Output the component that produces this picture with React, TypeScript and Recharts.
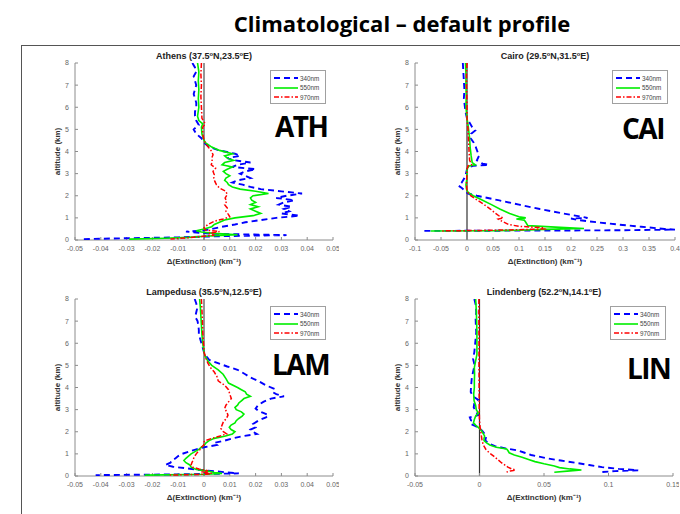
import React from 'react';
import { ScatterChart, Scatter, XAxis, YAxis, ReferenceLine } from 'recharts';

// each point: [altitude (km), delta extinction (km^-1)]
type Pt = [number, number];

const altTicks = [0, 1, 2, 3, 4, 5, 6, 7, 8];
const smallTicks = [-0.05, -0.04, -0.03, -0.02, -0.01, 0, 0.01, 0.02, 0.03, 0.04, 0.05];
const caiTicks = [-0.1, -0.05, 0, 0.05, 0.1, 0.15, 0.2, 0.25, 0.3, 0.35, 0.4];
const linTicks = [-0.05, 0, 0.05, 0.1, 0.15];
const wavelengths = ['340nm', '550nm', '970nm'];

const ath340: Pt[] = [[8.0,-0.0045],[7.8,-0.0035],[7.6,-0.003],[7.4,-0.004],[7.2,-0.0035],[7.0,-0.003],[6.8,-0.0035],[6.6,-0.004],[6.4,-0.0035],[6.2,-0.003],[6.0,-0.003],[5.8,-0.0035],[5.6,-0.0035],[5.4,-0.003],[5.2,-0.002],[5.0,-0.004],[4.8,-0.003],[4.6,-0.001],[4.4,0.0],[4.2,0.002],[4.05,0.006],[3.9,0.012],[3.8,0.014],[3.7,0.009],[3.6,0.012],[3.5,0.018],[3.4,0.013],[3.3,0.011],[3.2,0.02],[3.1,0.016],[3.0,0.014],[2.9,0.016],[2.8,0.018],[2.7,0.013],[2.6,0.011],[2.5,0.015],[2.4,0.018],[2.3,0.022],[2.2,0.03],[2.1,0.038],[2.0,0.032],[1.9,0.028],[1.8,0.035],[1.7,0.031],[1.6,0.029],[1.5,0.034],[1.4,0.031],[1.3,0.033],[1.2,0.03],[1.1,0.037],[1.0,0.028],[0.9,0.022],[0.8,0.016],[0.7,0.012],[0.6,0.007],[0.5,0.003],[0.42,-0.001],[0.38,-0.007],[0.33,-0.002],[0.28,0.004],[0.22,0.032],[0.17,0.005],[0.12,-0.01],[0.08,-0.03],[0.04,-0.047]];
const ath550: Pt[] = [[8.0,-0.0025],[7.6,-0.002],[7.2,-0.0022],[6.8,-0.002],[6.4,-0.0022],[6.0,-0.002],[5.6,-0.0025],[5.4,-0.002],[5.25,-0.0005],[5.1,-0.001],[4.8,-0.0008],[4.6,-0.0003],[4.4,0.0005],[4.2,0.003],[4.05,0.006],[3.9,0.011],[3.8,0.008],[3.7,0.009],[3.6,0.0115],[3.5,0.008],[3.4,0.007],[3.3,0.011],[3.2,0.009],[3.1,0.0075],[3.0,0.0085],[2.9,0.01],[2.8,0.0085],[2.7,0.008],[2.6,0.009],[2.5,0.0095],[2.4,0.011],[2.3,0.014],[2.2,0.02],[2.1,0.025],[2.0,0.019],[1.9,0.018],[1.8,0.0185],[1.7,0.02],[1.6,0.018],[1.5,0.021],[1.4,0.018],[1.3,0.02],[1.2,0.022],[1.1,0.019],[1.0,0.012],[0.9,0.008],[0.8,0.006],[0.7,0.004],[0.6,0.003],[0.5,0.0],[0.42,-0.003],[0.36,-0.001],[0.3,0.004],[0.24,0.013],[0.18,0.002],[0.12,-0.006],[0.08,-0.015],[0.04,-0.029]];
const ath970: Pt[] = [[8.0,-0.001],[7.5,-0.0012],[7.0,-0.001],[6.5,-0.0012],[6.0,-0.001],[5.5,-0.0008],[5.25,0.0005],[5.1,-0.0005],[4.8,-0.0005],[4.5,0.0],[4.3,0.001],[4.15,0.002],[4.0,0.003],[3.85,0.0035],[3.7,0.003],[3.55,0.0032],[3.4,0.0028],[3.25,0.0045],[3.1,0.0035],[2.95,0.004],[2.8,0.0038],[2.65,0.0042],[2.5,0.0048],[2.35,0.006],[2.2,0.0085],[2.05,0.009],[1.9,0.0082],[1.75,0.0088],[1.6,0.008],[1.45,0.009],[1.3,0.0085],[1.15,0.0095],[1.05,0.01],[0.95,0.0075],[0.85,0.004],[0.7,0.0015],[0.55,0.0],[0.45,0.0005],[0.38,0.006],[0.3,0.002],[0.22,0.004],[0.15,-0.002],[0.1,-0.006],[0.05,-0.013]];

const cai340: Pt[] = [[8.0,-0.008],[7.6,-0.007],[7.2,-0.006],[6.8,-0.005],[6.4,-0.006],[6.0,-0.004],[5.8,-0.003],[5.5,0.0],[5.3,0.005],[5.1,0.01],[4.95,0.016],[4.8,0.008],[4.6,0.007],[4.4,0.013],[4.2,0.017],[4.0,0.02],[3.8,0.023],[3.6,0.019],[3.45,0.03],[3.4,0.042],[3.35,0.012],[3.3,0.003],[3.2,0.0],[3.0,-0.002],[2.8,-0.005],[2.6,-0.01],[2.45,-0.016],[2.35,-0.01],[2.2,-0.003],[2.1,0.002],[2.0,0.019],[1.8,0.06],[1.6,0.1],[1.4,0.14],[1.2,0.185],[1.0,0.232],[0.97,0.2],[0.9,0.215],[0.8,0.25],[0.7,0.29],[0.6,0.335],[0.5,0.38],[0.47,0.4],[0.44,0.3],[0.42,0.05],[0.41,-0.085]];
const cai550: Pt[] = [[8.0,-0.003],[7.5,-0.002],[7.0,-0.002],[6.5,-0.0015],[6.0,-0.002],[5.5,0.0],[5.2,0.002],[5.0,0.003],[4.6,0.005],[4.2,0.006],[3.8,0.008],[3.5,0.01],[3.4,0.016],[3.35,0.004],[3.2,0.0],[2.8,0.0],[2.5,-0.002],[2.3,-0.001],[2.15,0.002],[2.0,0.012],[1.8,0.03],[1.6,0.047],[1.4,0.063],[1.2,0.082],[1.05,0.1],[1.0,0.113],[0.95,0.095],[0.9,0.11],[0.8,0.113],[0.65,0.117],[0.58,0.17],[0.52,0.225],[0.48,0.15],[0.44,0.1],[0.42,0.05],[0.41,-0.07]];
const cai970: Pt[] = [[8.0,0.0],[7.5,-0.001],[7.0,-0.001],[6.5,-0.0005],[6.0,0.0],[5.5,0.0],[5.0,0.002],[4.5,0.003],[4.0,0.004],[3.6,0.005],[3.4,0.009],[3.35,0.002],[3.2,0.0],[2.8,-0.0005],[2.5,-0.001],[2.2,0.0],[2.0,0.007],[1.8,0.02],[1.6,0.033],[1.4,0.045],[1.2,0.055],[1.05,0.064],[1.0,0.07],[0.95,0.06],[0.85,0.067],[0.7,0.08],[0.62,0.1],[0.55,0.147],[0.5,0.15],[0.46,0.09],[0.43,0.02],[0.41,-0.05]];

const lam340: Pt[] = [[8.0,-0.0036],[7.8,-0.003],[7.6,-0.0026],[7.4,-0.003],[7.2,-0.0034],[7.0,-0.0025],[6.8,-0.0022],[6.6,-0.002],[6.4,-0.002],[6.2,-0.0015],[6.0,-0.001],[5.8,-0.0005],[5.6,0.0],[5.4,0.001],[5.25,0.002],[5.1,0.0054],[4.95,0.009],[4.8,0.013],[4.6,0.016],[4.45,0.018],[4.3,0.021],[4.1,0.024],[3.95,0.027],[3.8,0.0265],[3.7,0.028],[3.6,0.031],[3.5,0.026],[3.35,0.023],[3.2,0.021],[3.05,0.02],[2.95,0.021],[2.85,0.023],[2.75,0.025],[2.65,0.024],[2.5,0.021],[2.35,0.019],[2.2,0.02],[2.1,0.018],[2.0,0.019],[1.9,0.0205],[1.8,0.015],[1.7,0.011],[1.6,0.008],[1.5,0.004],[1.4,0.005],[1.3,0.0],[1.2,-0.003],[1.1,-0.006],[1.0,-0.0085],[0.9,-0.01],[0.8,-0.011],[0.7,-0.0125],[0.6,-0.013],[0.5,-0.015],[0.42,-0.012],[0.35,-0.007],[0.28,-0.002],[0.22,0.004],[0.17,0.008],[0.12,0.0135],[0.08,-0.005],[0.04,-0.042]];
const lam550: Pt[] = [[8.0,-0.0017],[7.6,-0.0014],[7.2,-0.0012],[6.8,-0.001],[6.4,-0.0008],[6.0,-0.0005],[5.6,0.0],[5.4,0.0005],[5.2,0.0015],[5.0,0.003],[4.8,0.0055],[4.6,0.0074],[4.4,0.0085],[4.2,0.0095],[4.0,0.013],[3.9,0.0145],[3.8,0.016],[3.7,0.0165],[3.6,0.018],[3.5,0.0155],[3.4,0.0145],[3.3,0.0135],[3.2,0.013],[3.1,0.012],[3.0,0.0125],[2.9,0.0145],[2.8,0.0155],[2.7,0.0148],[2.6,0.0135],[2.5,0.0125],[2.4,0.012],[2.3,0.0105],[2.2,0.0098],[2.1,0.0105],[2.0,0.012],[1.9,0.011],[1.8,0.008],[1.7,0.004],[1.6,0.002],[1.5,0.0008],[1.4,0.0002],[1.3,-0.001],[1.2,-0.002],[1.1,-0.0035],[1.0,-0.005],[0.9,-0.006],[0.8,-0.007],[0.7,-0.0078],[0.6,-0.007],[0.5,-0.0055],[0.4,-0.005],[0.3,-0.003],[0.22,0.0015],[0.16,0.004],[0.12,0.007],[0.08,0.001],[0.04,-0.023]];
const lam970: Pt[] = [[8.0,-0.001],[7.5,-0.0008],[7.0,-0.0006],[6.5,-0.0005],[6.0,-0.0002],[5.6,0.0],[5.3,0.0008],[5.1,0.0015],[4.9,0.0025],[4.7,0.004],[4.5,0.005],[4.3,0.0055],[4.1,0.008],[3.9,0.0095],[3.7,0.01],[3.5,0.0106],[3.35,0.0095],[3.2,0.0085],[3.05,0.008],[2.9,0.0088],[2.75,0.0093],[2.6,0.0087],[2.45,0.0075],[2.3,0.007],[2.15,0.0065],[2.0,0.0075],[1.9,0.0088],[1.8,0.006],[1.7,0.003],[1.6,0.0005],[1.5,-0.0004],[1.4,0.0],[1.3,-0.001],[1.2,-0.0015],[1.1,-0.0023],[1.0,-0.003],[0.9,-0.0036],[0.8,-0.004],[0.7,-0.0043],[0.6,-0.0047],[0.5,-0.005],[0.4,-0.0045],[0.32,-0.002],[0.24,0.0015],[0.18,-0.001],[0.12,0.003],[0.08,0.001],[0.04,-0.014]];

const lin340: Pt[] = [[8.0,-0.004],[7.7,-0.0028],[7.4,-0.0025],[7.1,-0.003],[6.8,-0.0028],[6.5,-0.0025],[6.2,-0.003],[5.9,-0.0035],[5.6,-0.004],[5.3,-0.005],[5.0,-0.0038],[4.7,-0.005],[4.4,-0.006],[4.1,-0.0065],[3.8,-0.0068],[3.6,-0.005],[3.45,-0.0012],[3.3,-0.004],[3.1,-0.0045],[2.9,-0.0025],[2.75,-0.001],[2.65,-0.0075],[2.5,-0.0065],[2.35,-0.007],[2.25,-0.003],[2.15,0.0],[2.05,0.002],[1.9,0.004],[1.75,0.005],[1.6,0.0045],[1.45,0.008],[1.35,0.012],[1.25,0.02],[1.15,0.03],[1.05,0.035],[0.95,0.04],[0.8,0.052],[0.7,0.063],[0.6,0.074],[0.5,0.085],[0.4,0.095],[0.32,0.108],[0.26,0.123],[0.22,0.105],[0.18,0.095]];
const lin550: Pt[] = [[8.0,-0.003],[7.5,-0.0025],[7.0,-0.0022],[6.5,-0.002],[6.0,-0.002],[5.5,-0.002],[5.2,-0.003],[4.9,-0.004],[4.6,-0.0038],[4.3,-0.004],[4.0,-0.004],[3.7,-0.0045],[3.4,-0.0042],[3.2,-0.003],[3.0,-0.0025],[2.85,-0.001],[2.7,-0.003],[2.55,-0.004],[2.4,-0.0047],[2.3,-0.003],[2.2,-0.001],[2.1,0.001],[2.0,0.002],[1.9,0.003],[1.8,0.004],[1.7,0.0035],[1.6,0.0035],[1.5,0.0055],[1.4,0.008],[1.3,0.013],[1.22,0.021],[1.15,0.022],[1.05,0.023],[0.95,0.027],[0.85,0.033],[0.75,0.038],[0.65,0.043],[0.55,0.05],[0.45,0.058],[0.38,0.062],[0.32,0.07],[0.27,0.079],[0.22,0.068],[0.17,0.058]];
const lin970: Pt[] = [[8.0,-0.0005],[7.0,-0.0005],[6.0,-0.0004],[5.0,-0.0004],[4.0,-0.0003],[3.0,-0.0002],[2.5,0.0],[2.2,0.0005],[2.0,0.001],[1.8,0.0015],[1.6,0.002],[1.4,0.003],[1.2,0.005],[1.05,0.0075],[0.9,0.011],[0.75,0.014],[0.6,0.017],[0.5,0.0195],[0.4,0.022],[0.32,0.025],[0.27,0.028],[0.23,0.024],[0.18,0.021]];

const FONT = '"Liberation Sans", Arial, Helvetica, sans-serif';
const BOX = '#8c8c8c';
const TICK_TXT = '#666';

const STYLES = [
    { color: '#0000ff', width: 1.9, dash: '6 4' },
    { color: '#00ee00', width: 1.6, dash: undefined },
    { color: '#ff0000', width: 1.5, dash: '5 2 1.5 2' },
];

const toXY = (pts: Pt[]) => pts.map(([alt, ext]) => ({ alt, ext }));
const NoDot = () => <g />;

interface PanelProps {
    left: number;
    top: number;
    w: number;
    h: number;
    domain: [number, number];
    ticks: number[];
    station: string;
    lat: string;
    lon: string;
    code: string;
    codeX: number;
    codeY: number;
    series: Pt[][];
    zeroColor: string;
    zeroWidth: number;
}

const PAD_L = 50, PAD_R = 6, PAD_T = 6, PAD_B = 36, Y_W = 30, X_H = 28;

const Panel = (p: PanelProps) => {
    const tickStyle = { fill: TICK_TXT, fontSize: 7, fontFamily: FONT };
    const sup = { fontSize: 5.8, position: 'relative' as const, top: -3 };
    return (
        <>
            <div style={{ position: 'absolute', left: p.left - PAD_L, top: p.top - PAD_T }}>
                <ScatterChart
                    width={p.w + PAD_L + PAD_R}
                    height={p.h + PAD_T + PAD_B}
                    margin={{ top: PAD_T, right: PAD_R, bottom: PAD_B - X_H, left: PAD_L - Y_W }}
                >
                    <XAxis type="number" dataKey="ext" domain={p.domain} ticks={p.ticks} allowDataOverflow
                        height={X_H} stroke={BOX} tickSize={-3} tickMargin={9} tick={tickStyle} interval={0}
                        label={{ value: 'Δ(Extinction) (km⁻¹)', position: 'insideBottom', offset: 4, fill: '#333', fontSize: 8, fontWeight: 'bold', fontFamily: FONT }} />
                    <XAxis xAxisId="top" orientation="top" type="number" domain={p.domain} ticks={p.ticks} allowDataOverflow
                        height={0} stroke={BOX} tickSize={-3} tick={false} interval={0} />
                    <YAxis type="number" dataKey="alt" domain={[0, 8]} ticks={altTicks} allowDataOverflow
                        width={Y_W} stroke={BOX} tickSize={-3} tickMargin={9} tick={tickStyle} interval={0}
                        label={{ value: 'altitude (km)', angle: -90, position: 'insideLeft', offset: 12, fill: '#333', fontSize: 8, fontWeight: 'bold', fontFamily: FONT, style: { textAnchor: 'middle' } }} />
                    <YAxis yAxisId="right" orientation="right" type="number" domain={[0, 8]} ticks={altTicks} allowDataOverflow
                        width={0} stroke={BOX} tickSize={-3} tick={false} interval={0} />
                    <ReferenceLine x={0} stroke={p.zeroColor} strokeWidth={p.zeroWidth} />
                    {p.series.map((s, i) => (
                        <Scatter
                            key={wavelengths[i]}
                            name={wavelengths[i]}
                            data={toXY(s)}
                            fill={STYLES[i].color}
                            stroke={STYLES[i].color}
                            line={{ stroke: STYLES[i].color, strokeWidth: STYLES[i].width, strokeDasharray: STYLES[i].dash }}
                            lineType="joint"
                            shape={NoDot}
                            isAnimationActive={false}
                        />
                    ))}
                </ScatterChart>
            </div>
            {/* subplot title */}
            <div style={{ position: 'absolute', left: p.left, top: p.top - 12, width: p.w, textAlign: 'center', fontFamily: FONT, fontWeight: 'bold', fontSize: 9, lineHeight: '10px', color: '#222', whiteSpace: 'nowrap' }}>
                {p.station} ({p.lat}<span style={sup}>o</span>N,{p.lon}<span style={sup}>o</span>E)
            </div>
            {/* legend */}
            <div style={{ position: 'absolute', left: p.left + p.w - 63, top: p.top + 7, width: 54, height: 32, border: '1px solid #a0a0a0', background: '#fff', fontFamily: FONT, fontSize: 6.3, color: '#444' }}>
                {wavelengths.map((wl, i) => (
                    <div key={wl} style={{ position: 'absolute', left: 3, top: 3 + i * 9.5, height: 8, display: 'flex', alignItems: 'center' }}>
                        <svg width={25} height={8}>
                            <line x1={0} y1={4} x2={24} y2={4} stroke={STYLES[i].color} strokeWidth={STYLES[i].width} strokeDasharray={STYLES[i].dash} />
                        </svg>
                        <span style={{ marginLeft: 1 }}>{wl}</span>
                    </div>
                ))}
            </div>
            {/* station code */}
            <div style={{ position: 'absolute', left: p.codeX, top: p.codeY, fontFamily: '"Open Sans", sans-serif', fontWeight: 'bold', fontSize: 28, lineHeight: '28px', letterSpacing: -1.5, color: '#000' }}>
                {p.code}
            </div>
        </>
    );
};

export default function App() {
    return (
        <div style={{ position: 'absolute', left: 0, top: 0, width: 680, height: 514, background: '#fff', overflow: 'hidden' }}>
            <div style={{ position: 'absolute', left: 0, top: 8, width: 804, textAlign: 'center', fontFamily: '"Open Sans", sans-serif', fontWeight: 'bold', fontSize: 22, lineHeight: '30px', color: '#000' }}>
                Climatological – default profile
            </div>
            <div style={{ position: 'absolute', left: 22, top: 45, width: 658, height: 0, borderTop: '1.5px solid #555' }} />
            <div style={{ position: 'absolute', left: 21, top: 45, width: 0, height: 469, borderLeft: '1.5px solid #555' }} />

            <Panel left={75} top={63} w={258} h={177} domain={[-0.05, 0.05]} ticks={smallTicks}
                station="Athens" lat="37.5" lon="23.5" code="ATH" codeX={275} codeY={112}
                series={[ath340, ath550, ath970]} zeroColor="#959595" zeroWidth={2} />
            <Panel left={415} top={63} w={260} h={177} domain={[-0.1, 0.4]} ticks={caiTicks}
                station="Cairo" lat="29.5" lon="31.5" code="CAI" codeX={622} codeY={114}
                series={[cai340, cai550, cai970]} zeroColor="#333" zeroWidth={1.2} />
            <Panel left={75} top={299} w={258} h={177} domain={[-0.05, 0.05]} ticks={smallTicks}
                station="Lampedusa" lat="35.5" lon="12.5" code="LAM" codeX={272} codeY={350}
                series={[lam340, lam550, lam970]} zeroColor="#959595" zeroWidth={2} />
            <Panel left={415} top={299} w={258} h={177} domain={[-0.05, 0.15]} ticks={linTicks}
                station="Lindenberg" lat="52.2" lon="14.1" code="LIN" codeX={627} codeY={354}
                series={[lin340, lin550, lin970]} zeroColor="#333" zeroWidth={1.2} />
        </div>
    );
}
